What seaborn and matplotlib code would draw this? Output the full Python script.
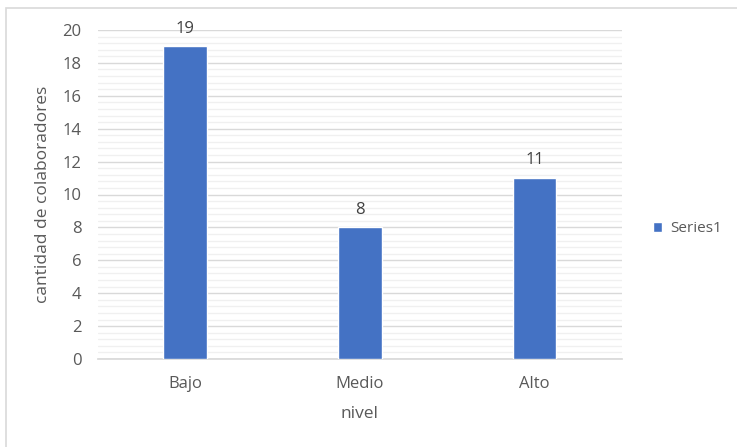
import matplotlib
matplotlib.use("Agg")
import matplotlib.pyplot as plt
from matplotlib.patches import Rectangle
from matplotlib.ticker import MultipleLocator
import pandas as pd
import seaborn as sns

# datos del grafico
niveles = ["Bajo", "Medio", "Alto"]
cantidades = [19, 8, 11]
serie = "Series1"

BAR_COLOR = "#4472C4"
TEXT_COLOR = "#595959"
W, H = 737, 447

sns.set_theme(style="white")
plt.rcParams["font.family"] = ["Open Sans", "DejaVu Sans"]

df = pd.DataFrame({"nivel": niveles, "cantidad": cantidades})

fig = plt.figure(figsize=(W / 100, H / 100), dpi=100)
fig.patch.set_facecolor("white")

# marco del area del grafico (como en Excel)
fig.patches.append(Rectangle((6 / W, -0.1), 1.2, (H - 8) / H + 0.1,
                             transform=fig.transFigure, fill=False,
                             edgecolor="#D9D9D9", linewidth=1.2))

ax = fig.add_axes([98 / W, (H - 359) / H, (622 - 98) / W, (359 - 30) / H])

sns.barplot(data=df, x="nivel", y="cantidad", color=BAR_COLOR, width=0.25,
            saturation=1, label=serie, ax=ax, zorder=3)

ax.set_ylim(0, 20)
ax.yaxis.set_major_locator(MultipleLocator(2))
ax.yaxis.set_minor_locator(MultipleLocator(0.4))
ax.grid(axis="y", which="major", color="#D9D9D9", linewidth=1.0, zorder=0)
ax.grid(axis="y", which="minor", color="#F0F0F0", linewidth=1.0, zorder=0)
ax.set_axisbelow(True)

for side in ["top", "right", "left"]:
    ax.spines[side].set_visible(False)
ax.spines["bottom"].set_color("#D9D9D9")

ax.tick_params(axis="both", which="both", length=0, labelsize=12,
               labelcolor=TEXT_COLOR)
ax.tick_params(axis="y", pad=12)
ax.tick_params(axis="x", pad=12)

ax.set_xlabel("nivel", fontsize=12.5, color=TEXT_COLOR, labelpad=10)
ax.set_ylabel("cantidad de colaboradores", fontsize=12.5, color=TEXT_COLOR,
              labelpad=8)

for cont in ax.containers:
    ax.bar_label(cont, padding=7, fontsize=12, color="#404040")

if ax.legend_:
    ax.legend_.remove()
handles, labels = ax.get_legend_handles_labels()
fig.legend(handles, labels, loc="center left",
           bbox_to_anchor=(653 / W, (H - 229) / H), frameon=False,
           borderpad=0, borderaxespad=0,
           fontsize=11, labelcolor=TEXT_COLOR, handlelength=0.6,
           handleheight=0.6, handletextpad=0.5)

fig.savefig("out.png", dpi=100, facecolor="white")
